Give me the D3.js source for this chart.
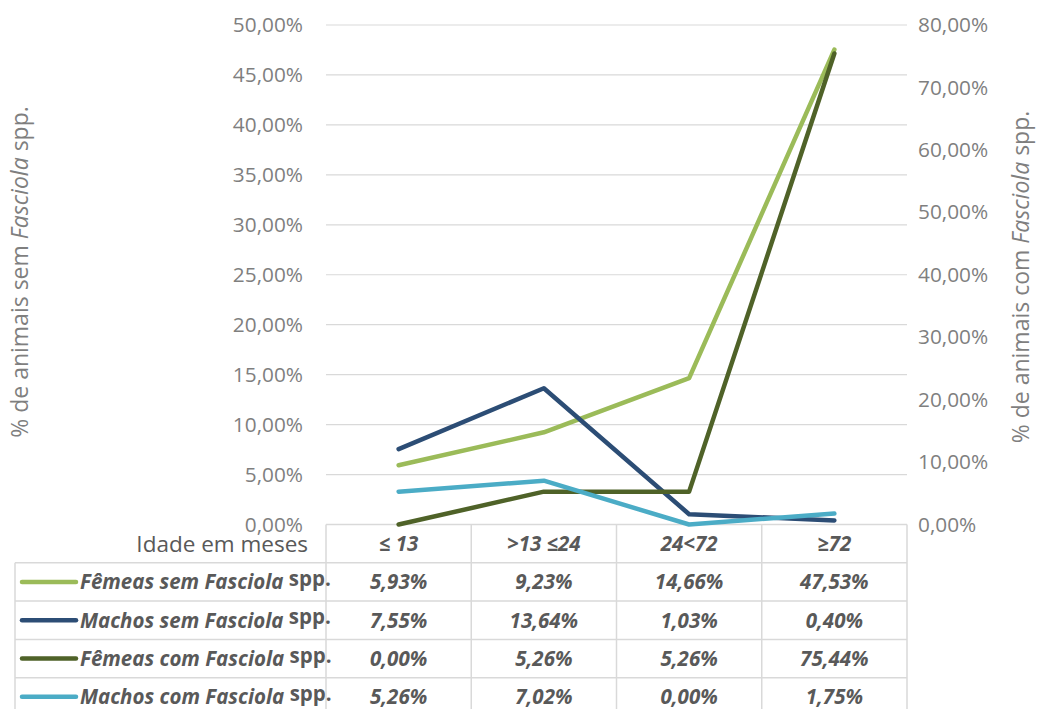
<!DOCTYPE html>
<html><head><meta charset="utf-8">
<script src="https://cdn.jsdelivr.net/npm/d3@7"></script>
<style>body{margin:0;background:#fff}svg{display:block}text{font-family:"Open Sans",sans-serif}</style>
</head><body>
<svg id="c" width="1040" height="709"></svg>
<script>
const categories = ["≤ 13", ">13 ≤24", "24<72", "≥72"];
const seriesNames = ["Fêmeas sem Fasciola", "Machos sem Fasciola", "Fêmeas com Fasciola", "Machos com Fasciola"];
const femeasSem = [5.93, 9.23, 14.66, 47.53];
const machosSem = [7.55, 13.64, 1.03, 0.40];
const femeasCom = [0.00, 5.26, 5.26, 75.44];
const machosCom = [5.26, 7.02, 0.00, 1.75];
const leftTicks = [0, 5, 10, 15, 20, 25, 30, 35, 40, 45, 50];
const rightTicks = [0, 10, 20, 30, 40, 50, 60, 70, 80];
const colors = ["#9BBB59", "#2C4D75", "#4F6228", "#4BACC6"];

const series = [
  {name: seriesNames[0], values: femeasSem, axis: "left", color: colors[0]},
  {name: seriesNames[1], values: machosSem, axis: "left", color: colors[1]},
  {name: seriesNames[2], values: femeasCom, axis: "right", color: colors[2]},
  {name: seriesNames[3], values: machosCom, axis: "right", color: colors[3]}
];

const svg = d3.select("#c");
const X0 = 326, X1 = 907, Y0 = 524.5, Y1 = 25;
const x = d3.scaleBand().domain(categories).range([X0, X1]).padding(0);
const yL = d3.scaleLinear().domain([0, 50]).range([Y0, Y1]);
const yR = d3.scaleLinear().domain([0, 80]).range([Y0, Y1]);
const loc = d3.formatLocale({decimal: ",", thousands: ".", grouping: [3], currency: ["", ""]});
const fmt = v => loc.format(".2f")(v) + "%";

// gridlines
svg.append("g").selectAll("line").data(leftTicks.filter(d => d > 0)).join("line")
  .attr("x1", X0).attr("x2", X1).attr("y1", d => yL(d)).attr("y2", d => yL(d))
  .attr("stroke", "#d9d9d9").attr("stroke-width", 1.2);

// axes
const gl = svg.append("g").attr("transform", `translate(${X0},0)`)
  .call(d3.axisLeft(yL).tickValues(leftTicks).tickSize(0).tickPadding(23).tickFormat(fmt));
const gr = svg.append("g").attr("transform", `translate(${X1},0)`)
  .call(d3.axisRight(yR).tickValues(rightTicks).tickSize(0).tickPadding(11).tickFormat(fmt));
[gl, gr].forEach(g => {
  g.select(".domain").remove();
  g.selectAll("text").attr("fill", "#7f7f7f").style("font-size", "20.8px").style("font-family", "'Open Sans', sans-serif");
});

// axis titles
function axisTitle(tx, ty, word) {
  const t = svg.append("text").attr("transform", `translate(${tx},${ty}) rotate(-90)`)
    .attr("text-anchor", "middle").attr("fill", "#7f7f7f").style("font-size", "23px");
  t.append("tspan").text("% de animais " + word + " ");
  t.append("tspan").style("font-style", "italic").text("Fasciola");
  t.append("tspan").text(" spp.");
}
axisTitle(28, 272, "sem");
axisTitle(1029, 277, "com");

// table
const rowH = 38.3;
const tbl = svg.append("g");
const stroke = "#d9d9d9";
const edges = categories.map(c => x(c)).concat([X1]);
tbl.append("line").attr("x1", X0).attr("x2", X1).attr("y1", Y0).attr("y2", Y0).attr("stroke", stroke).attr("stroke-width", 1.5);
edges.forEach(e => tbl.append("line").attr("x1", e).attr("x2", e).attr("y1", Y0).attr("y2", 709).attr("stroke", stroke).attr("stroke-width", 1.5));
tbl.append("line").attr("x1", 15).attr("x2", 15).attr("y1", Y0 + rowH).attr("y2", 709).attr("stroke", stroke).attr("stroke-width", 1.5);
for (let i = 1; i <= 5; i++) {
  tbl.append("line").attr("x1", 15).attr("x2", X1).attr("y1", Y0 + rowH * i).attr("y2", Y0 + rowH * i).attr("stroke", stroke).attr("stroke-width", 1.5);
}
svg.append("text").attr("x", 308).attr("y", Y0 + rowH / 2 + 8).attr("text-anchor", "end")
  .attr("fill", "#595959").style("font-size", "22.5px").text("Idade em meses");
categories.forEach(c => {
  svg.append("text").attr("x", x(c) + x.bandwidth() / 2).attr("y", Y0 + rowH / 2 + 7).attr("text-anchor", "middle")
    .attr("fill", "#595959").style("font-size", "20.5px").style("font-weight", "bold").style("font-style", "italic").text(c);
});
series.forEach((s, i) => {
  const cy = Y0 + rowH * (i + 1) + rowH / 2;
  svg.append("line").attr("x1", 22).attr("x2", 76).attr("y1", cy).attr("y2", cy)
    .attr("stroke", s.color).attr("stroke-width", 4.5).attr("stroke-linecap", "round");
  const t = svg.append("text").attr("x", 80).attr("y", cy + 7.5).attr("fill", "#595959").style("font-size", "20.5px").style("font-weight", "bold");
  t.append("tspan").style("font-style", "italic").text(s.name + " ");
  t.append("tspan").attr("dy", -3.5).style("font-size", "20.5px").text("spp.");
  s.values.forEach((v, j) => {
    svg.append("text").attr("x", x(categories[j]) + x.bandwidth() / 2).attr("y", cy + 7.5).attr("text-anchor", "middle")
      .attr("fill", "#595959").style("font-size", "20.5px").style("font-weight", "bold").style("font-style", "italic").text(fmt(v));
  });
});

// lines
series.forEach(s => {
  const ys = s.axis === "left" ? yL : yR;
  const line = d3.line().x((d, j) => x(categories[j]) + x.bandwidth() / 2).y(d => ys(d));
  svg.append("path").datum(s.values).attr("d", line).attr("fill", "none")
    .attr("stroke", s.color).attr("stroke-width", 4.5).attr("stroke-linejoin", "round").attr("stroke-linecap", "round");
});
</script>
</body></html>
